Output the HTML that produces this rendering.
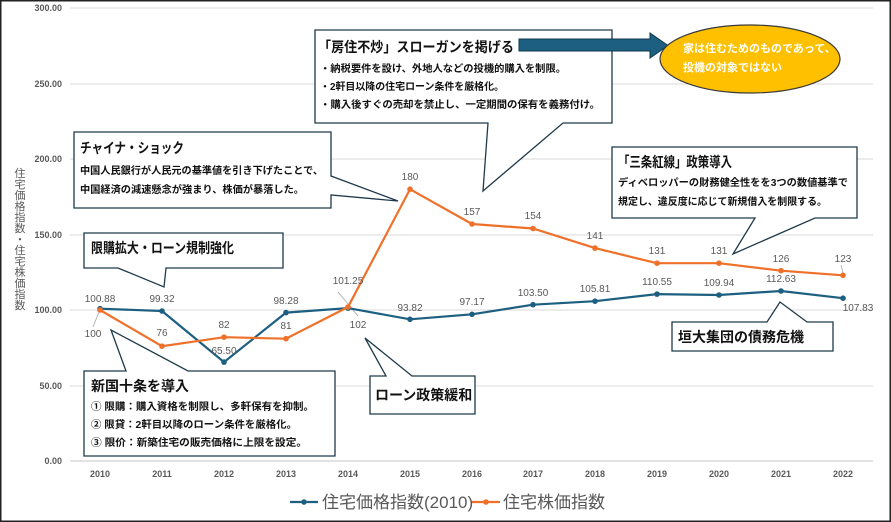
<!DOCTYPE html>
<html><head><meta charset="utf-8"><style>
html,body{margin:0;padding:0;background:#fff}
svg{display:block}
text{font-family:"Liberation Sans","Noto Sans CJK JP",sans-serif}
.t{font-size:9px;font-weight:bold;fill:#595959}
.d{font-size:10px;fill:#595959;text-anchor:middle}
.cb{fill:#fff;stroke:#1f3a4b;stroke-width:1.3}
.h{font-size:14px;font-weight:bold;fill:#111}
.s{font-size:10px;font-weight:bold;fill:#111}
.v{font-size:11px;fill:#595959;text-anchor:middle}
</style></head><body>
<svg width="891" height="522" viewBox="0 0 891 522" xmlns="http://www.w3.org/2000/svg">
<rect x="0.75" y="0.75" width="889.5" height="520.5" fill="#fff" stroke="#222" stroke-width="1.5"/>
<g stroke="#d9d9d9" stroke-width="1">
<line x1="70" x2="873" y1="8" y2="8"/><line x1="70" x2="873" y1="84" y2="84"/>
<line x1="70" x2="873" y1="159" y2="159"/><line x1="70" x2="873" y1="235" y2="235"/>
<line x1="70" x2="873" y1="310" y2="310"/><line x1="70" x2="873" y1="386" y2="386"/>
<line x1="70" x2="873" y1="461" y2="461" stroke-width="1.5"/>
</g>
<g class="t" text-anchor="end">
<text x="62" y="11">300.00</text><text x="62" y="87">250.00</text><text x="62" y="162">200.00</text>
<text x="62" y="238">150.00</text><text x="62" y="313">100.00</text><text x="62" y="389">50.00</text><text x="62" y="464">0.00</text>
</g>
<g class="t" text-anchor="middle">
<text x="100" y="477">2010</text><text x="162" y="477">2011</text><text x="224" y="477">2012</text><text x="286" y="477">2013</text>
<text x="348" y="477">2014</text><text x="410" y="477">2015</text><text x="472" y="477">2016</text><text x="533" y="477">2017</text>
<text x="595" y="477">2018</text><text x="657" y="477">2019</text><text x="719" y="477">2020</text><text x="781" y="477">2021</text><text x="843" y="477">2022</text>
</g>
<g class="v">
<text x="20" y="177">住</text><text x="20" y="188">宅</text><text x="20" y="199">価</text><text x="20" y="210">格</text><text x="20" y="221">指</text><text x="20" y="232">数</text><text x="20" y="243">・</text><text x="20" y="254">住</text><text x="20" y="265">宅</text><text x="20" y="276">株</text><text x="20" y="287">価</text><text x="20" y="298">指</text><text x="20" y="309">数</text>
</g>
<g stroke="#a6a6a6" stroke-width="0.8">
<line x1="99" y1="312" x2="93" y2="327"/><line x1="338" y1="292" x2="358" y2="316"/><line x1="841" y1="265" x2="843" y2="273"/>
</g>
<polyline fill="none" stroke="#1c5f80" stroke-width="2.2" points="100,308.7 162,311 224,362.1 286,312.6 348,308.1 410,319.3 472,314.3 533,304.7 595,301.2 657,294.1 719,295 781,291 843,298.2"/>
<g fill="#1c5f80"><circle cx="100" cy="308.7" r="2.8"/><circle cx="162" cy="311" r="2.8"/><circle cx="224" cy="362.1" r="2.8"/><circle cx="286" cy="312.6" r="2.8"/><circle cx="348" cy="308.1" r="2.8"/><circle cx="410" cy="319.3" r="2.8"/><circle cx="472" cy="314.3" r="2.8"/><circle cx="533" cy="304.7" r="2.8"/><circle cx="595" cy="301.2" r="2.8"/><circle cx="657" cy="294.1" r="2.8"/><circle cx="719" cy="295" r="2.8"/><circle cx="781" cy="291" r="2.8"/><circle cx="843" cy="298.2" r="2.8"/></g>
<polyline fill="none" stroke="#ef7029" stroke-width="2.2" points="100,310 162,346.2 224,337.2 286,338.7 348,307 410,189.2 472,224 533,228.5 595,248.1 657,263.2 719,263.2 781,270.7 843,275.3"/>
<g fill="#ef7029"><circle cx="100" cy="310" r="2.8"/><circle cx="162" cy="346.2" r="2.8"/><circle cx="224" cy="337.2" r="2.8"/><circle cx="286" cy="338.7" r="2.8"/><circle cx="348" cy="307" r="2.8"/><circle cx="410" cy="189.2" r="2.8"/><circle cx="472" cy="224" r="2.8"/><circle cx="533" cy="228.5" r="2.8"/><circle cx="595" cy="248.1" r="2.8"/><circle cx="657" cy="263.2" r="2.8"/><circle cx="719" cy="263.2" r="2.8"/><circle cx="781" cy="270.7" r="2.8"/><circle cx="843" cy="275.3" r="2.8"/></g>
<g class="d">
<text x="100" y="302">100.88</text><text x="162" y="302">99.32</text><text x="224" y="354">65.50</text><text x="286" y="304">98.28</text>
<text x="348" y="284">101.25</text><text x="410" y="311">93.82</text><text x="472" y="305">97.17</text><text x="533" y="296">103.50</text>
<text x="595" y="292">105.81</text><text x="657" y="285">110.55</text><text x="719" y="286">109.94</text><text x="781" y="282">112.63</text><text x="858" y="311">107.83</text>
<text x="93" y="337">100</text><text x="162" y="336">76</text><text x="224" y="328">82</text><text x="286" y="329">81</text>
<text x="358" y="328">102</text><text x="410" y="180">180</text><text x="472" y="215">157</text><text x="533" y="219">154</text>
<text x="595" y="239">141</text><text x="657" y="254">131</text><text x="719" y="254">131</text><text x="781" y="262">126</text><text x="843" y="262">123</text>
</g>
<path class="cb" d="M315,30 H612 V123 H563 L483,191 L488,123 H315 Z"/>
<text class="h" x="318" y="52" textLength="196" lengthAdjust="spacingAndGlyphs">「房住不炒」スローガンを掲げる</text>
<text class="s" x="320" y="72" textLength="246" lengthAdjust="spacingAndGlyphs">・納税要件を設け、外地人などの投機的購入を制限。</text>
<text class="s" x="320" y="90" textLength="184" lengthAdjust="spacingAndGlyphs">・2軒目以降の住宅ローン条件を厳格化。</text>
<text class="s" x="320" y="108" textLength="280" lengthAdjust="spacingAndGlyphs">・購入後すぐの売却を禁止し、一定期間の保有を義務付け。</text>
<path d="M519,39 H650 V33 L668,45.5 L650,58 V51 H519 Z" fill="#1c5f80" stroke="#123a50" stroke-width="1"/>
<ellipse cx="750" cy="59" rx="90" ry="34" fill="#ffc000" stroke="#3a3a3a" stroke-width="1.2"/>
<text x="683" y="52" font-size="11" font-weight="bold" fill="#fff">家は住むためのものであって、</text>
<text x="683" y="71" font-size="11" font-weight="bold" fill="#fff">投機の対象ではない</text>

<path class="cb" d="M74,132 H331 V176 L398,201 L331,195 V208 H74 Z"/>
<text class="h" x="80" y="153" textLength="104" lengthAdjust="spacingAndGlyphs">チャイナ・ショック</text>
<text class="s" x="80" y="174" textLength="243" lengthAdjust="spacingAndGlyphs">中国人民銀行が人民元の基準値を引き下げたことで、</text>
<text class="s" x="80" y="193" textLength="224" lengthAdjust="spacingAndGlyphs">中国経済の減速懸念が強まり、株価が暴落した。</text>

<path class="cb" d="M84,233 H283 V268 H166 L164,287 L118,268 H84 Z"/>
<text class="h" x="91" y="253" textLength="143" lengthAdjust="spacingAndGlyphs">限購拡大・ローン規制強化</text>

<path class="cb" d="M84,371 H126 L111,330 L188,371 H335 V456 H84 Z"/>
<text class="h" x="91" y="391">新国十条を導入</text>
<text class="s" x="91" y="410" textLength="223" lengthAdjust="spacingAndGlyphs">① 限購：購入資格を制限し、多軒保有を抑制。</text>
<text class="s" x="91" y="428" textLength="206" lengthAdjust="spacingAndGlyphs">② 限貸：2軒目以降のローン条件を厳格化。</text>
<text class="s" x="91" y="446" textLength="216" lengthAdjust="spacingAndGlyphs">③ 限价：新築住宅の販売価格に上限を設定。</text>

<path class="cb" d="M370,376 H386 L365,338 L412,376 H475 V414 H370 Z"/>
<text class="h" x="375" y="400">ローン政策緩和</text>

<path class="cb" d="M612,147 H857 V218 H815 L733,254 L755,218 H612 Z"/>
<text class="h" x="618" y="167" textLength="114" lengthAdjust="spacingAndGlyphs">「三条紅線」政策導入</text>
<text class="s" x="618" y="186" textLength="230" lengthAdjust="spacingAndGlyphs">ディベロッパーの財務健全性をを3つの数値基準で</text>
<text class="s" x="618" y="205" textLength="209" lengthAdjust="spacingAndGlyphs">規定し、違反度に応じて新規借入を制限する。</text>

<path class="cb" d="M672,322 H767 L780,302 L807,322 H833 V351 H672 Z"/>
<text class="h" x="678" y="342">垣大集団の債務危機</text>

<line x1="290" y1="502" x2="318" y2="502" stroke="#1c5f80" stroke-width="2.2"/><circle cx="304" cy="502" r="2.8" fill="#1c5f80"/>
<text x="322" y="508" font-size="17" fill="#595959">住宅価格指数(2010)</text>
<line x1="472" y1="502" x2="500" y2="502" stroke="#ef7029" stroke-width="2.2"/><circle cx="486" cy="502" r="2.8" fill="#ef7029"/>
<text x="503" y="508" font-size="17" fill="#595959">住宅株価指数</text>
</svg>
</body></html>
